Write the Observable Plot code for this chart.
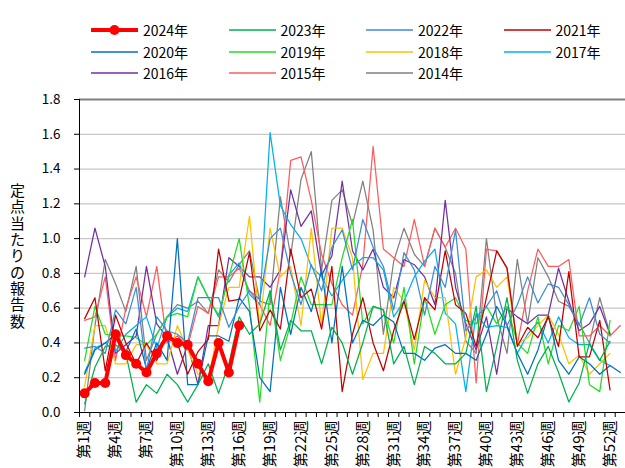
<!DOCTYPE html>
<html>
<head>
<meta charset="utf-8">
<script src="https://cdn.jsdelivr.net/npm/d3@7"></script>
<script src="https://cdn.jsdelivr.net/npm/@observablehq/plot@0.6"></script>
<style>
  body { margin: 0; background: #fff; }
  #wrap { position: relative; width: 625px; height: 468px; overflow: hidden; font-family: "Noto Sans CJK JP", "Noto Sans", sans-serif; color: #000; }
  #legend { position: absolute; left: 0; top: 0; width: 625px; height: 90px; }
  .item { position: absolute; display: flex; align-items: center; font-size: 14px; height: 20px; }
  .item svg { margin-right: 5px; }
  #chart { position: absolute; left: 0; top: 90px; }
</style>
</head>
<body>
<div id="wrap">
  <div id="legend"></div>
  <div id="chart"></div>
</div>
<script>
const yTitle = "定点当たりの報告数";
const weekTicks = [1,4,7,10,13,16,19,22,25,28,31,34,37,40,43,46,49,52];
const yTicks = [0,0.2,0.4,0.6,0.8,1.0,1.2,1.4,1.6,1.8];

const y2024 = [0.11,0.17,0.17,0.45,0.33,0.28,0.23,0.34,0.44,0.40,0.39,0.28,0.18,0.40,0.23,0.50];
const y2023 = [0.05,0.26,0.38,0.39,0.34,0.06,0.16,0.11,0.22,0.16,0.06,0.16,0.28,0.11,0.28,0.55,0.45,0.51,0.70,0.36,0.53,0.47,0.47,0.28,0.49,0.40,0.22,0.40,0.61,0.59,0.28,0.38,0.16,0.38,0.34,0.28,0.28,0.34,0.61,0.12,0.38,0.66,0.30,0.11,0.28,0.38,0.23,0.06,0.17,0.40,0.30,0.41];
const y2022 = [0.37,0.38,0.34,0.59,0.51,0.72,0.24,0.55,0.47,0.45,0.40,0.66,0.66,0.66,0.49,0.61,0.70,0.65,1.00,1.06,0.80,0.62,0.85,0.70,0.95,1.05,0.82,1.11,0.95,0.84,0.59,0.92,0.82,0.56,0.84,0.72,1.05,0.47,0.55,0.61,0.70,0.50,0.62,0.78,0.63,0.74,0.72,0.62,0.50,0.66,0.45,0.40];
const y2021 = [0.54,0.66,0.24,0.56,0.40,0.28,0.40,0.30,0.45,0.40,0.22,0.35,0.42,0.94,0.64,0.65,0.92,0.47,0.59,0.48,0.94,0.66,0.71,0.48,0.84,0.12,0.45,0.66,0.40,0.24,0.47,0.64,0.42,0.66,0.59,0.93,0.62,0.57,0.38,0.66,0.93,0.83,0.38,0.49,0.43,0.55,0.38,0.81,0.32,0.32,0.53,0.13];
const y2020 = [0.22,0.36,0.40,0.45,0.35,0.48,0.25,0.40,0.30,1.00,0.16,0.16,0.44,0.44,0.41,0.66,0.58,0.20,0.12,0.72,0.45,0.72,0.58,0.82,0.40,0.84,0.40,0.53,0.50,0.56,0.52,0.34,0.34,0.30,0.37,0.39,0.34,0.34,0.30,0.45,0.61,0.50,0.34,0.22,0.36,0.56,0.30,0.22,0.32,0.28,0.22,0.27,0.23];
const y2019 = [0.30,0.61,0.45,0.44,0.44,0.43,0.39,0.45,0.55,0.57,0.55,0.78,0.66,0.56,0.78,1.00,0.61,0.06,0.70,0.30,0.51,0.78,0.62,0.62,0.62,0.89,1.11,0.51,0.61,0.59,0.40,0.72,0.28,0.66,0.45,0.62,0.66,0.53,0.51,0.61,0.51,0.61,0.40,0.34,0.55,0.28,0.50,0.47,0.61,0.16,0.12,0.53];
const y2018 = [0.15,0.50,0.50,0.28,0.28,0.39,0.39,0.28,0.28,0.50,0.36,0.22,0.18,0.50,0.72,0.72,1.13,0.49,1.06,0.78,0.84,0.50,1.06,0.50,1.06,1.06,0.89,0.19,0.34,0.34,0.72,0.64,0.36,0.76,0.66,0.66,0.22,0.43,0.78,0.82,0.72,0.78,0.40,0.43,0.50,0.56,0.45,0.28,0.33,0.22,0.28,0.34];
const y2017 = [0.23,0.37,0.40,0.35,0.45,0.50,0.55,0.37,0.55,0.60,0.58,0.78,0.66,0.55,0.79,0.86,0.68,0.62,1.61,1.19,1.08,1.00,0.84,0.78,0.67,0.76,0.84,0.89,0.89,0.82,0.55,0.64,0.78,0.87,0.94,0.57,0.51,0.12,0.57,0.49,0.50,0.49,0.34,0.45,0.52,0.40,0.55,0.43,0.39,0.39,0.30,0.27];
const y2016 = [0.78,1.06,0.84,0.34,0.39,0.44,0.84,0.51,0.43,0.22,0.39,0.16,0.50,0.50,0.89,0.84,0.78,0.78,0.72,0.82,1.28,1.07,1.16,0.79,0.90,1.33,0.93,0.82,0.94,0.72,0.66,0.88,0.85,0.78,0.62,1.22,0.72,0.51,0.36,0.55,0.22,0.60,0.55,0.51,0.56,0.56,0.83,0.64,0.47,0.51,0.61,0.45];
const y2015 = [0.53,0.55,0.78,0.30,0.60,0.78,0.55,0.84,0.40,0.44,0.38,0.61,0.57,0.78,0.78,0.83,0.70,0.62,0.50,0.82,1.45,1.47,1.22,0.91,0.74,0.62,0.56,0.85,1.53,0.94,0.89,0.84,1.11,0.84,1.06,0.95,1.06,0.94,0.17,0.94,0.93,0.83,0.39,0.70,0.94,0.84,0.84,0.88,0.44,0.44,0.50,0.44,0.50];
const y2014 = [0.01,0.50,0.88,0.74,0.58,0.84,0.30,0.45,0.55,0.62,0.60,0.64,0.57,0.82,0.75,0.85,0.93,0.64,0.62,1.24,0.90,1.34,1.50,0.82,1.22,1.28,1.08,1.33,1.05,0.45,0.87,1.06,0.91,0.84,1.06,0.95,0.80,0.41,0.34,1.00,0.55,0.34,0.88,0.51,0.89,0.78,0.64,0.61,0.51,0.40,0.66,0.45];

const years = ["2024年","2023年","2022年","2021年","2020年","2019年","2018年","2017年","2016年","2015年","2014年"];
const colors = ["#FF0000","#00B050","#3C8DD6","#C00000","#0070C0","#22DD22","#FFC000","#00B0F0","#7030A0","#FF5B5B","#808080"];
const valueLists = [y2024,y2023,y2022,y2021,y2020,y2019,y2018,y2017,y2016,y2015,y2014];

const rows = [];
valueLists.forEach((vals, i) => vals.forEach((v, j) => rows.push({year: years[i], week: j + 1, value: v})));

const marks = [
  Plot.ruleY(yTicks.slice(1, -1), {stroke: "#C8C8C8", strokeWidth: 1.2}),
  Plot.ruleY([1.8], {stroke: "#7F7F7F", strokeWidth: 1.8}),
  Plot.axisY({ticks: yTicks, tickFormat: d3.format(".1f"), tickSize: 5, tickPadding: 14, label: null, fontSize: 13.5, fill: "#000"}),
  Plot.axisX({ticks: d3.range(0.5, 54, 1), tickFormat: () => "", tickSize: 5, label: null}),
  Plot.axisX({ticks: weekTicks, tickFormat: d => `第${d}週`, tickSize: 0, tickPadding: 8, tickRotate: -90, label: null, fontSize: 15, fill: "#000"}),
  Plot.text([yTitle.split("").join("\n")], {frameAnchor: "left", dx: -62, textAnchor: "middle", lineHeight: 1.09, fontSize: 15, fill: "#000"})
];
for (let i = years.length - 1; i >= 1; i--) {
  marks.push(Plot.line(rows.filter(d => d.year === years[i]), {x: "week", y: "value", stroke: colors[i], strokeWidth: 1.25}));
}
const r24 = rows.filter(d => d.year === years[0]);
marks.push(Plot.line(r24, {x: "week", y: "value", stroke: colors[0], strokeWidth: 4}));
marks.push(Plot.dot(r24, {x: "week", y: "value", fill: colors[0], r: 5}));
marks.push(Plot.ruleX([0.5], {y1: 0, y2: 1.8, stroke: "#000", strokeWidth: 1}));
marks.push(Plot.ruleY([0], {stroke: "#000", strokeWidth: 1}));

const chart = Plot.plot({
  width: 625,
  height: 378,
  marginLeft: 79,
  marginRight: 0,
  marginTop: 9,
  marginBottom: 56,
  style: {fontFamily: '"Noto Sans CJK JP", "Noto Sans", sans-serif', fontSize: "13px", color: "#000", background: "transparent", overflow: "visible"},
  x: {type: "linear", domain: [0.5, 53.5], axis: null},
  y: {domain: [0, 1.8], axis: null},
  marks
});
document.getElementById("chart").appendChild(chart);

const legend = document.getElementById("legend");
const rowY = [20, 42, 63];
years.forEach((y, i) => {
  const col = i % 4, row = Math.floor(i / 4);
  const div = document.createElement("div");
  div.className = "item";
  div.style.left = (91 + col * 137.5) + "px";
  div.style.top = rowY[row] + "px";
  const isMain = i === 0;
  div.innerHTML = `<svg width="47" height="14"><line x1="0" x2="47" y1="7" y2="7" stroke="${colors[i]}" stroke-width="${isMain ? 4 : 1.5}"/>${isMain ? `<circle cx="23.5" cy="7" r="5" fill="${colors[i]}"/>` : ""}</svg><span>${y}</span>`;
  legend.appendChild(div);
});
</script>
</body>
</html>
